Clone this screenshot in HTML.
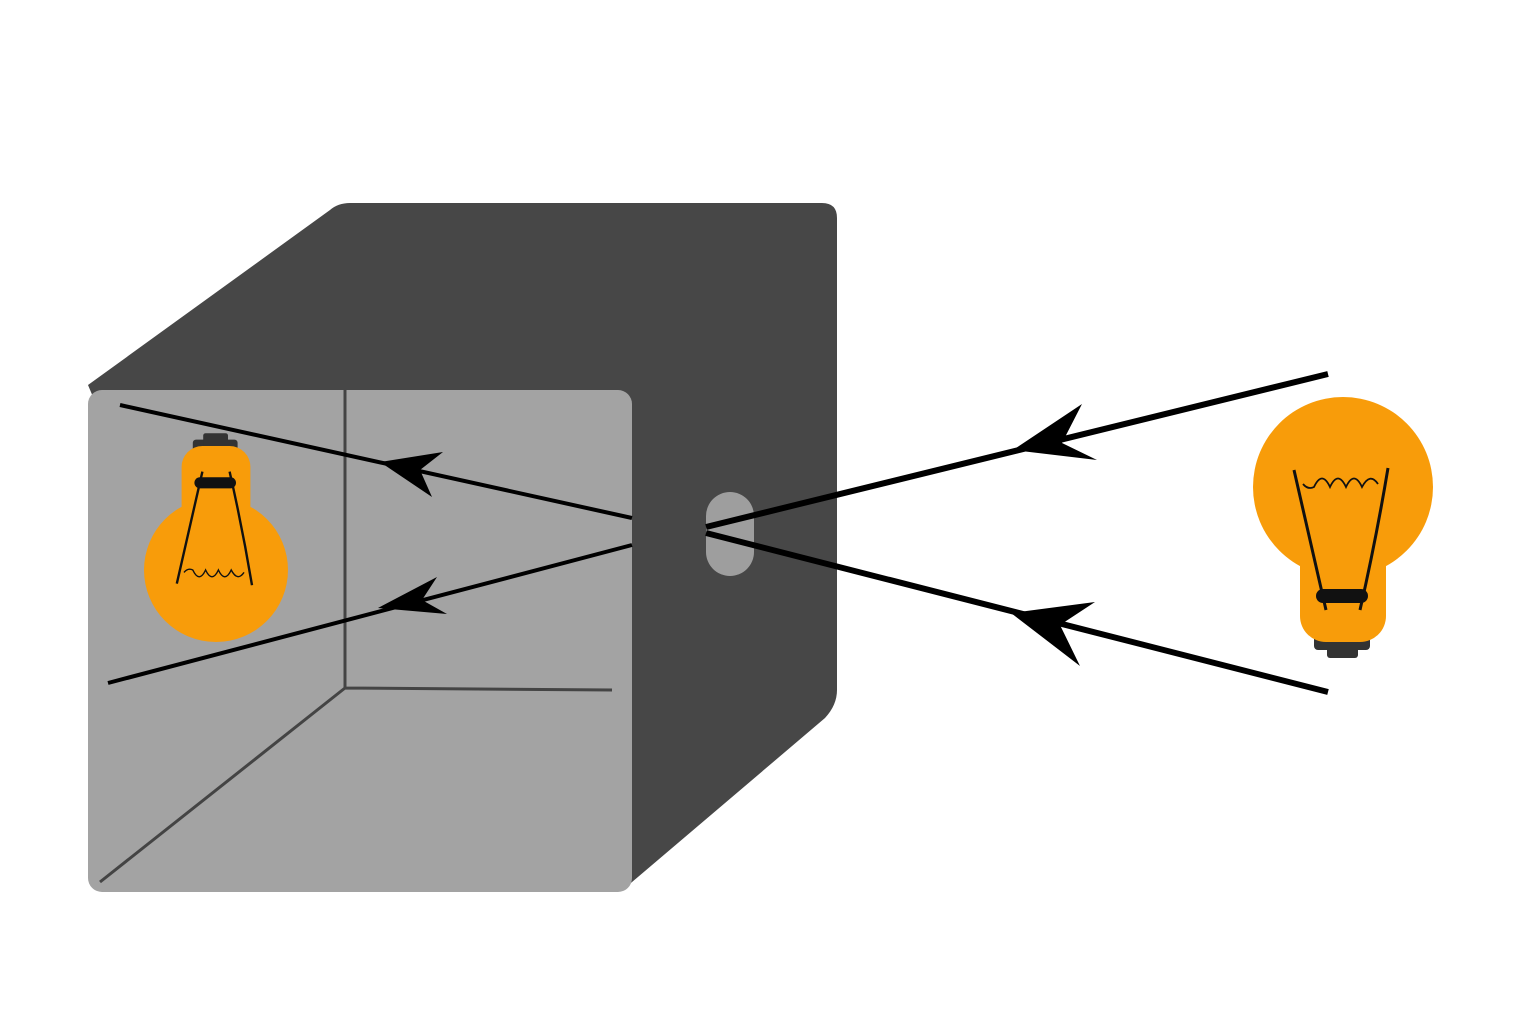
<!DOCTYPE html>
<html><head><style>html,body{margin:0;padding:0;background:#fff}svg{display:block}</style></head>
<body>
<svg width="1536" height="1024" viewBox="0 0 1536 1024" xmlns="http://www.w3.org/2000/svg">
<defs>
<g id="bulb">
  <rect x="1314" y="628" width="56" height="22" rx="4" fill="#333"/>
  <rect x="1327" y="640" width="31" height="18" rx="3" fill="#333"/>
  <circle cx="1343" cy="487" r="90" fill="#f89c0a"/>
  <rect x="1300" y="520" width="86" height="122" rx="26" fill="#f89c0a"/>
  <path d="M1294 470 Q1310 540 1326 610 M1388 468 Q1376 540 1360 610" stroke="#111" stroke-width="3" fill="none"/>
  <path d="M1303 484 Q1308 490 1314 487 Q1322 470 1330 487 Q1338 470 1346 487 Q1354 470 1362 487 Q1370 472 1378 484" stroke="#111" stroke-width="1.8" fill="none"/>
  <rect x="1316" y="589" width="52" height="14" rx="7" fill="#111"/>
</g>
</defs>
<path d="M88 385 L330 210 Q338 203 350 203 L822 203 Q837 203 837 218 L837 690 Q837 705 825 718 L625 888 L300 888 Z" fill="#474747"/>
<rect x="88" y="390" width="544" height="502" rx="14" fill="#a3a3a3"/>
<path d="M345 390 L345 688 L612 690 M345 688 L100 882" stroke="#444" stroke-width="3" fill="none"/>
<rect x="706" y="492" width="48" height="84" rx="24" fill="#9e9e9e"/>
<path d="M1328 374 L706 527 M1328 692 L706 533" stroke="#000" stroke-width="6" fill="none"/>
<path d="M632 518 L120 405 M632 545 L108 683" stroke="#000" stroke-width="4" fill="none"/>
<path d="M1013 450 L1082 404 L1062 443 L1097 460 Z" fill="#000"/>
<path d="M1011 613 L1095 602 L1060 625 L1080 666 Z" fill="#000"/>
<path d="M380 462 L443 452 L420 470 L432 497 Z" fill="#000"/>
<path d="M378 608 L437 577 L422 600 L447 614 Z" fill="#000"/>
<use href="#bulb"/>
<g transform="translate(216,570) scale(0.8,-0.8) translate(-1343,-487)"><use href="#bulb"/></g>
</svg>
</body></html>
